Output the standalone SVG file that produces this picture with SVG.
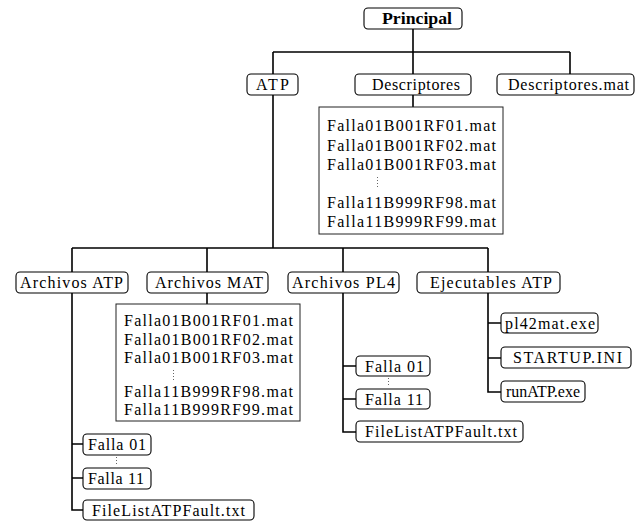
<svg xmlns="http://www.w3.org/2000/svg" width="642" height="521" viewBox="0 0 642 521">
<style>
.bx{fill:#fff;stroke:#000;stroke-width:1.1}
.lb{fill:#fff;stroke:#222;stroke-width:1}
.t{font-family:"Liberation Serif","Times New Roman",serif;font-size:16px;fill:#000}
.b{font-weight:bold}
.c{fill:none;stroke:#000;stroke-width:1.6}
.d{fill:none;stroke:#666;stroke-width:1;stroke-dasharray:1 2}
</style>
<rect width="642" height="521" fill="#fff"/>
<g id="connectors">
<path class="c" d="M413,29V74M273,52H570M273,52V74M570,52V74"/>
<path class="c" d="M273,95V248M413,95V107"/>
<path class="c" d="M72,248H488M72,248V272M207,248V272M343,248V272M488,248V272"/>
<path class="c" d="M207,293V304"/>
<path class="c" d="M72,293V510H83M72,444H83M72,478H83"/>
<path class="c" d="M343,293V432H356M343,366H356M343,399H356"/>
<path class="c" d="M488,293V392H501M488,323H501M488,358H501"/>
</g>
<g id="principal"><rect class="bx" x="364" y="8" width="98" height="21" rx="4"/><text class="t b" x="382" y="24" textLength="70" lengthAdjust="spacingAndGlyphs">Principal</text></g>
<g id="atp"><rect class="bx" x="247" y="74" width="51" height="21" rx="4"/><text class="t" x="256" y="90" textLength="33">ATP</text></g>
<g id="descriptores"><rect class="bx" x="355" y="74" width="116" height="21" rx="4"/><text class="t" x="372" y="90" textLength="88">Descriptores</text></g>
<g id="descriptores-mat"><rect class="bx" x="497" y="74" width="137" height="21" rx="4"/><text class="t" x="508" y="90" textLength="121">Descriptores.mat</text></g>
<g id="descriptores-list"><rect class="lb" x="319" y="107" width="184" height="127"/>
<text class="t" x="327" y="131" textLength="169">Falla01B001RF01.mat</text>
<text class="t" x="327" y="150.5" textLength="169">Falla01B001RF02.mat</text>
<text class="t" x="327" y="170" textLength="169">Falla01B001RF03.mat</text>
<path class="d" d="M377.5,177V188"/>
<text class="t" x="327" y="207.5" textLength="169">Falla11B999RF98.mat</text>
<text class="t" x="327" y="227" textLength="169">Falla11B999RF99.mat</text></g>
<g id="archivos-atp"><rect class="bx" x="16" y="272" width="112" height="21" rx="4"/><text class="t" x="20" y="288" textLength="103">Archivos ATP</text></g>
<g id="archivos-mat"><rect class="bx" x="147" y="272" width="121" height="21" rx="4"/><text class="t" x="155" y="288" textLength="108">Archivos MAT</text></g>
<g id="archivos-pl4"><rect class="bx" x="288" y="272" width="111" height="21" rx="4"/><text class="t" x="292" y="288" textLength="103">Archivos PL4</text></g>
<g id="ejecutables-atp"><rect class="bx" x="417" y="272" width="143" height="21" rx="4"/><text class="t" x="430" y="288" textLength="122">Ejecutables ATP</text></g>
<g id="mat-list"><rect class="lb" x="116" y="304" width="184" height="117"/>
<text class="t" x="124" y="326" textLength="169">Falla01B001RF01.mat</text>
<text class="t" x="124" y="344.5" textLength="169">Falla01B001RF02.mat</text>
<text class="t" x="124" y="363" textLength="169">Falla01B001RF03.mat</text>
<path class="d" d="M173.5,370V380"/>
<text class="t" x="124" y="397" textLength="169">Falla11B999RF98.mat</text>
<text class="t" x="124" y="415" textLength="169">Falla11B999RF99.mat</text></g>
<g id="atp-falla01"><rect class="bx" x="83" y="434" width="68" height="21" rx="4"/><text class="t" x="88" y="450" textLength="58">Falla 01</text></g>
<path class="d" d="M116.5,457V465"/>
<g id="atp-falla11"><rect class="bx" x="83" y="468" width="68" height="21" rx="4"/><text class="t" x="88" y="484" textLength="56">Falla 11</text></g>
<g id="atp-filelist"><rect class="bx" x="83" y="500" width="171" height="20" rx="4"/><text class="t" x="92" y="515.5" textLength="153">FileListATPFault.txt</text></g>
<g id="pl4-falla01"><rect class="bx" x="356" y="356" width="74" height="20" rx="4"/><text class="t" x="365" y="371.5" textLength="59">Falla 01</text></g>
<path class="d" d="M388.5,378V387"/>
<g id="pl4-falla11"><rect class="bx" x="356" y="389" width="74" height="20" rx="4"/><text class="t" x="365" y="404.5" textLength="58">Falla 11</text></g>
<g id="pl4-filelist"><rect class="bx" x="356" y="421" width="167" height="21" rx="4"/><text class="t" x="365" y="437" textLength="152">FileListATPFault.txt</text></g>
<g id="pl42mat"><rect class="bx" x="501" y="313" width="97" height="20" rx="4"/><text class="t" x="505" y="328.5" textLength="90">pl42mat.exe</text></g>
<g id="startup"><rect class="bx" x="501" y="347" width="130" height="21" rx="4"/><text class="t" x="513" y="363" textLength="109">STARTUP.INI</text></g>
<g id="runatp"><rect class="bx" x="501" y="381" width="84" height="21" rx="4"/><text class="t" x="506" y="397" textLength="74" lengthAdjust="spacingAndGlyphs">runATP.exe</text></g>
</svg>
